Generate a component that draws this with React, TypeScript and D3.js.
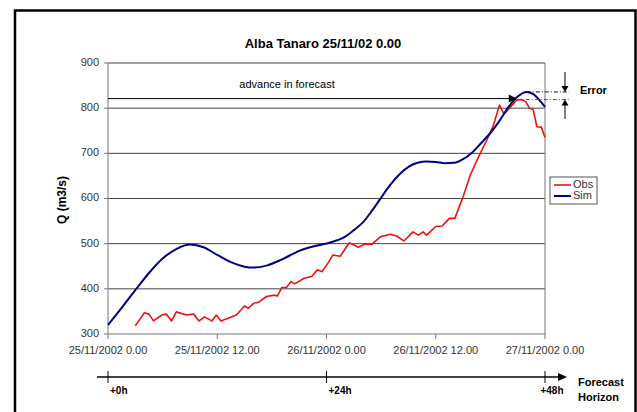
import React from "react";
import * as d3 from "d3";

const title = "Alba Tanaro 25/11/02 0.00";
const hourTicks = [0, 12, 24, 36, 48];
const tickLabels = ["25/11/2002 0.00", "25/11/2002 12.00", "26/11/2002 0.00", "26/11/2002 12.00", "27/11/2002 0.00"];
const yTicks = [300, 400, 500, 600, 700, 800, 900];
const horizonTicks = [0, 24, 48];
const horizonLabels = ["+0h", "+24h", "+48h"];

const simHours = [0, 1.5, 3, 4.5, 6, 7.5, 9, 10.5, 12, 13.5, 15, 16, 17.5, 19, 21, 23, 24.5, 26, 27, 28, 29, 30, 31, 32, 33, 34, 35, 36, 37, 38, 39, 40, 41, 42, 43, 44, 45, 46, 46.8, 47.5, 48];
const simValues = [320, 358, 397, 435, 467, 488, 498, 492, 475, 459, 449, 447, 452, 464, 484, 496, 503, 515, 530, 547, 573, 602, 630, 653, 670, 679, 682, 681, 678, 679, 687, 702, 723, 745, 772, 803, 826, 836, 830, 815, 803];

const obsHours = [3.0, 4.0, 4.5, 5.0, 5.9, 6.4, 7.0, 7.5, 8.6, 9.4, 10.0, 10.6, 11.4, 11.9, 12.4, 13.2, 14.1, 15.0, 15.4, 16.0, 16.6, 17.4, 18.3, 18.6, 19.1, 19.6, 20.1, 20.5, 21.5, 22.4, 23.0, 23.5, 24.2, 24.7, 25.5, 26.5, 27.5, 28.2, 29.0, 29.9, 31.0, 31.7, 32.5, 33.5, 34.1, 34.6, 35.0, 36.0, 36.7, 37.5, 38.1, 39.0, 39.8, 40.7, 41.6, 42.35, 43.0, 43.5, 44.1, 44.9, 45.4, 45.9, 46.3, 46.7, 47.1, 47.6, 48];
const obsValues = [318, 347, 344, 329, 342, 344, 329, 349, 342, 344, 329, 338, 329, 342, 329, 335, 342, 362, 357, 368, 371, 383, 386, 384, 403, 403, 416, 411, 423, 428, 442, 438, 458, 475, 472, 502, 492, 499, 499, 515, 521, 517, 506, 526, 519, 526, 519, 538, 539, 556, 556, 604, 652, 692, 729, 763, 807, 787, 800, 818, 819, 814, 800, 797, 759, 758, 735];

const simPeakHour = 46;
const simPeak = 836;
const obsPeakHour = 44.9;
const obsPeak = 819;

const FONT = "Arial, 'Liberation Sans', sans-serif";

export default function App() {
  const x = d3.scaleLinear().domain([0, 48]).range([108, 545]);
  const y = d3.scaleLinear().domain([300, 900]).range([334, 63]);

  const simLine = d3
    .line<number>()
    .x((_, i) => x(simHours[i]))
    .y((v) => y(v))
    .curve(d3.curveMonotoneX)(simValues) as string;
  const obsLine = d3
    .line<number>()
    .x((_, i) => x(obsHours[i]))
    .y((v) => y(v))(obsValues) as string;

  const hy = 377; // horizon axis
  const advY = y(obsPeak) - 1;
  const advEnd = x(obsPeakHour);
  const errX = 565;
  const ySim = y(simPeak);
  const yObs = y(obsPeak);

  return (
    <div style={{ position: "fixed", left: 0, top: 0 }}>
      <svg width={637} height={412} style={{ display: "block", background: "#fff" }} fontFamily={FONT}>
        <rect x={15} y={10.5} width={620.5} height={520} fill="#fff" stroke="#000" strokeWidth={2.5} />
        <text x={323} y={45} textAnchor="middle" fontSize={13} fontWeight="bold" dominantBaseline="middle">
          {title}
        </text>

        {/* gridlines */}
        {yTicks.map((t) => (
          <line key={"g" + t} x1={108} x2={545} y1={y(t)} y2={y(t)} stroke={t === 300 ? "#777" : "#444"} strokeWidth={1} />
        ))}
        <line x1={108} x2={108} y1={y(900)} y2={y(300)} stroke="#777" />
        <line x1={545} x2={545} y1={y(900)} y2={y(300)} stroke="#777" />

        {/* y ticks */}
        {yTicks.map((t) => (
          <g key={"yt" + t}>
            <line x1={104} x2={108} y1={y(t)} y2={y(t)} stroke="#777" />
            <text x={99} y={y(t)} textAnchor="end" dominantBaseline="middle" fontSize={11} fill="#333">
              {t}
            </text>
          </g>
        ))}
        {/* x ticks */}
        {hourTicks.map((h, i) => (
          <g key={"xt" + h}>
            <line x1={x(h)} x2={x(h)} y1={y(300)} y2={y(300) + 5} stroke="#777" />
            <text x={x(h)} y={351} textAnchor="middle" dominantBaseline="middle" fontSize={11} fill="#333">
              {tickLabels[i]}
            </text>
          </g>
        ))}

        <text
          transform={`translate(63,200) rotate(-90)`}
          textAnchor="middle"
          dominantBaseline="middle"
          fontSize={12}
          fontWeight="bold"
        >
          Q (m3/s)
        </text>

        {/* series */}
        <path d={obsLine} fill="none" stroke="#ee1111" strokeWidth={1.6} strokeLinejoin="round" />
        <path d={simLine} fill="none" stroke="#000080" strokeWidth={2} />

        {/* advance in forecast */}
        <line x1={x(0)} x2={advEnd - 7} y1={advY} y2={advY} stroke="#000" strokeWidth={1} />
        <path d={`M${advEnd},${advY} L${advEnd - 8},${advY - 4} L${advEnd - 8},${advY + 4} Z`} fill="#000" />
        <text x={287} y={85} textAnchor="middle" dominantBaseline="middle" fontSize={11}>
          advance in forecast
        </text>

        {/* error */}
        <line x1={x(simPeakHour)} x2={errX + 4} y1={ySim} y2={ySim} stroke="#000080" strokeWidth={1} strokeDasharray="4,2,1,2" />
        <line x1={x(obsPeakHour)} x2={errX + 4} y1={yObs} y2={yObs} stroke="#ee1111" strokeWidth={1} strokeDasharray="4,2,1,2" />
        <line x1={errX} x2={errX} y1={72} y2={ySim - 5} stroke="#000" />
        <path d={`M${errX},${ySim} L${errX - 3.5},${ySim - 6} L${errX + 3.5},${ySim - 6} Z`} fill="#000" />
        <line x1={errX} x2={errX} y1={119} y2={yObs + 5} stroke="#000" />
        <path d={`M${errX},${yObs} L${errX - 3.5},${yObs + 6} L${errX + 3.5},${yObs + 6} Z`} fill="#000" />
        <text x={580} y={91} dominantBaseline="middle" fontSize={11} fontWeight="bold">
          Error
        </text>

        {/* legend */}
        <rect x={550} y={177} width={47} height={27} fill="#fff" stroke="#555" />
        <line x1={554} x2={571} y1={185} y2={185} stroke="#ee1111" strokeWidth={1.6} />
        <text x={573} y={185.5} dominantBaseline="middle" fontSize={11} fill="#333">
          Obs
        </text>
        <line x1={554} x2={571} y1={196} y2={196} stroke="#000080" strokeWidth={2} />
        <text x={573} y={196.5} dominantBaseline="middle" fontSize={11} fill="#333">
          Sim
        </text>

        {/* forecast horizon axis */}
        <line x1={97} x2={560} y1={hy} y2={hy} stroke="#000" strokeWidth={1.5} />
        <path d={`M567,${hy} L558,${hy - 4} L558,${hy + 4} Z`} fill="#000" />
        {horizonTicks.map((h, i) => (
          <g key={"h" + h}>
            <line x1={x(h)} x2={x(h)} y1={hy - 6} y2={hy + 6} stroke="#000" />
            <text
              x={i === 2 ? x(h) + 7 : x(h) + 2}
              y={391}
              textAnchor={i === 2 ? "middle" : "start"}
              dominantBaseline="middle"
              fontSize={10}
              fontWeight="bold"
            >
              {horizonLabels[i]}
            </text>
          </g>
        ))}
        <text x={578} y={383} dominantBaseline="middle" fontSize={11} fontWeight="bold">
          Forecast
        </text>
        <text x={578} y={398} dominantBaseline="middle" fontSize={11} fontWeight="bold">
          Horizon
        </text>
      </svg>
    </div>
  );
}
